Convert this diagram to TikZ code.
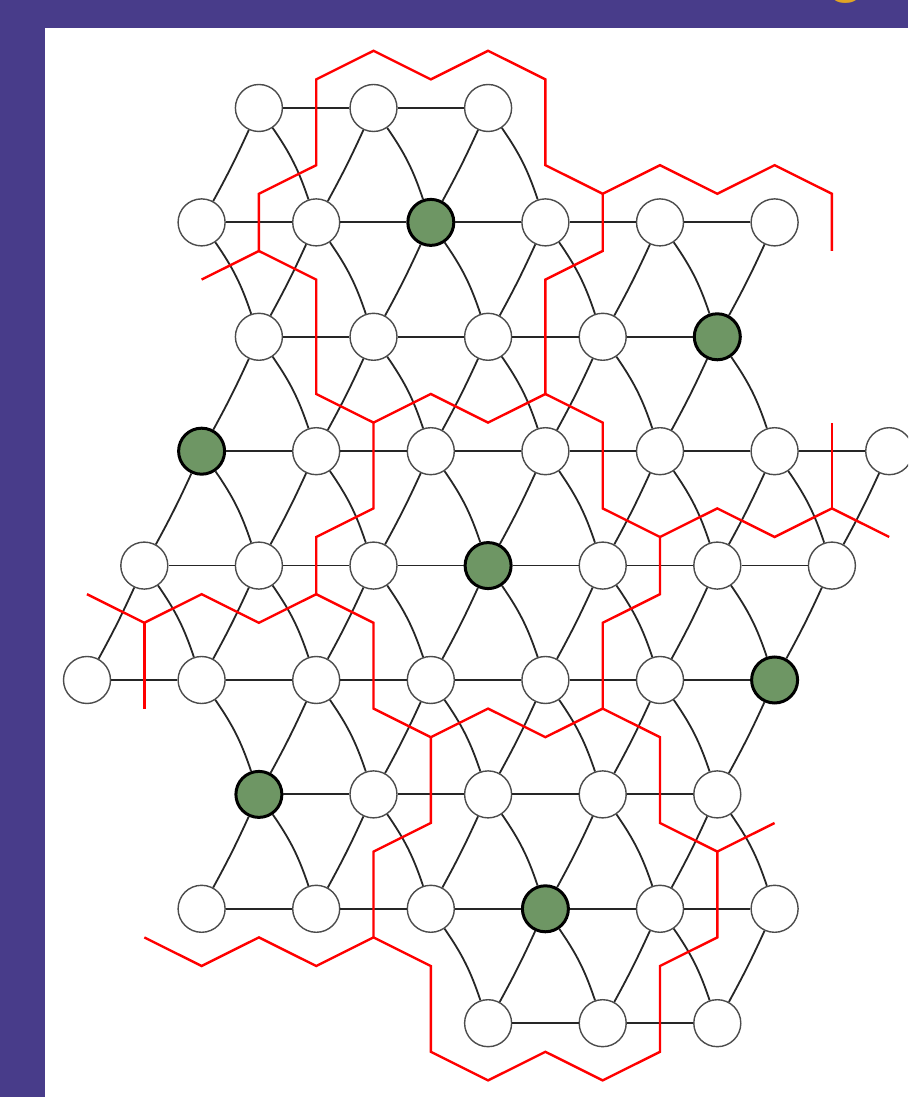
\documentclass[tikz,border=0pt]{standalone}
\usepackage{fontspec}
\setmainfont{Liberation Sans}
\definecolor{bgpurple}{RGB}{72,60,138}
\definecolor{nodegreen}{RGB}{110,150,100}
\definecolor{titlegold}{RGB}{225,165,35}
\begin{document}
\begin{tikzpicture}[x=1pt,y=1pt,
  wv/.style={circle,draw=black!70,line width=1.4pt,fill=white,minimum size=47pt,inner sep=0pt},
  gv/.style={circle,draw=black,line width=3pt,fill=nodegreen,minimum size=46pt,inner sep=0pt},
  edge/.style={draw=black!85,line width=1.8pt},
  wall/.style={draw=red,line width=2.4pt}]
\clip (0,0) rectangle (908,1097);
\fill[bgpurple] (0,0) rectangle (908,1097);
\fill[white] (45,0) rectangle (908,1069);
\node[anchor=base,text=titlegold,font=\fontsize{72}{72}\selectfont,inner sep=0pt] (title) at (847,1108) {g};
\begin{scope}[shift={(87pt,989pt)},x=57.3pt,y=-114.4pt]
% nodes
\foreach \r/\cs in {0/{3/wv,5/wv,7/wv},
  1/{2/wv,4/wv,6/gv,8/wv,10/wv,12/wv},
  2/{3/wv,5/wv,7/wv,9/wv,11/gv},
  3/{2/gv,4/wv,6/wv,8/wv,10/wv,12/wv,14/wv},
  4/{1/wv,3/wv,5/wv,7/gv,9/wv,11/wv,13/wv},
  5/{0/wv,2/wv,4/wv,6/wv,8/wv,10/wv,12/gv},
  6/{3/gv,5/wv,7/wv,9/wv,11/wv},
  7/{2/wv,4/wv,6/wv,8/gv,10/wv,12/wv},
  8/{7/wv,9/wv,11/wv}}
  \foreach \c/\s in \cs \node[\s] (n\r-\c) at (\c,\r) {};
% horizontal edges
\foreach \r/\cs in {0/{3,5},1/{2,4,...,10},2/{3,5,...,9},3/{2,4,...,12},
  4/{1,3,...,11},5/{0,2,...,10},6/{3,5,...,9},7/{2,4,...,10},8/{7,9}}
  \foreach \c in \cs {
    \pgfmathtruncatemacro\cc{\c+2}
    \draw[edge] (n\r-\c) -- (n\r-\cc);
  }
% down-right edges
\foreach \r/\cs in {0/{3,5,7},1/{2,4,...,10},2/{3,5,...,11},3/{2,4,...,12},
  4/{1,3,...,11},5/{2,4,...,10},6/{3,5,...,11},7/{6,8,10}}
  \foreach \c in \cs {
    \pgfmathtruncatemacro\rr{\r+1}
    \pgfmathtruncatemacro\cc{\c+1}
    \draw[edge] (n\r-\c) to[bend left=8] (n\rr-\cc);
  }
% down-left edges
\foreach \r/\cs in {0/{3,5,7},1/{4,6,...,12},2/{3,5,...,11},3/{2,4,...,14},
  4/{1,3,...,13},5/{4,6,...,12},6/{3,5,...,11},7/{8,10,12}}
  \foreach \c in \cs {
    \pgfmathtruncatemacro\rr{\r+1}
    \pgfmathtruncatemacro\cc{\c-1}
    \draw[edge] (n\r-\c) to[bend left=2] (n\rr-\cc);
  }
% red walls
\draw[wall] (2,1.5) -- (3,1.25) -- (3,0.75) -- (4,0.5) -- (4,-0.25) -- (5,-0.5) -- (6,-0.25) -- (7,-0.5) -- (8,-0.25) -- (8,0.5) -- (9,0.75) -- (10,0.5) -- (11,0.75) -- (12,0.5) -- (13,0.75) -- (13,1.25);
\draw[wall] (3,1.25) -- (4,1.5) -- (4,2.5) -- (5,2.75) -- (6,2.5) -- (7,2.75) -- (8,2.5) -- (8,1.5) -- (9,1.25) -- (9,0.75);
\draw[wall] (5,2.75) -- (5,3.5) -- (4,3.75) -- (4,4.25) -- (3,4.5) -- (2,4.25) -- (1,4.5) -- (0,4.25);
\draw[wall] (1,4.5) -- (1,5.25);
\draw[wall] (4,4.25) -- (5,4.5) -- (5,5.25) -- (6,5.5) -- (7,5.25) -- (8,5.5) -- (9,5.25) -- (10,5.5) -- (10,6.25) -- (11,6.5) -- (12,6.25);
\draw[wall] (9,5.25) -- (9,4.5) -- (10,4.25) -- (10,3.75) -- (9,3.5) -- (9,2.75) -- (8,2.5);
\draw[wall] (10,3.75) -- (11,3.5) -- (12,3.75) -- (13,3.5) -- (14,3.75);
\draw[wall] (13,3.5) -- (13,2.75);
\draw[wall] (6,5.5) -- (6,6.25) -- (5,6.5) -- (5,7.25) -- (4,7.5) -- (3,7.25) -- (2,7.5) -- (1,7.25);
\draw[wall] (5,7.25) -- (6,7.5) -- (6,8.25) -- (7,8.5) -- (8,8.25) -- (9,8.5) -- (10,8.25) -- (10,7.5) -- (11,7.25) -- (11,6.5);
\end{scope}
\end{tikzpicture}
\end{document}
